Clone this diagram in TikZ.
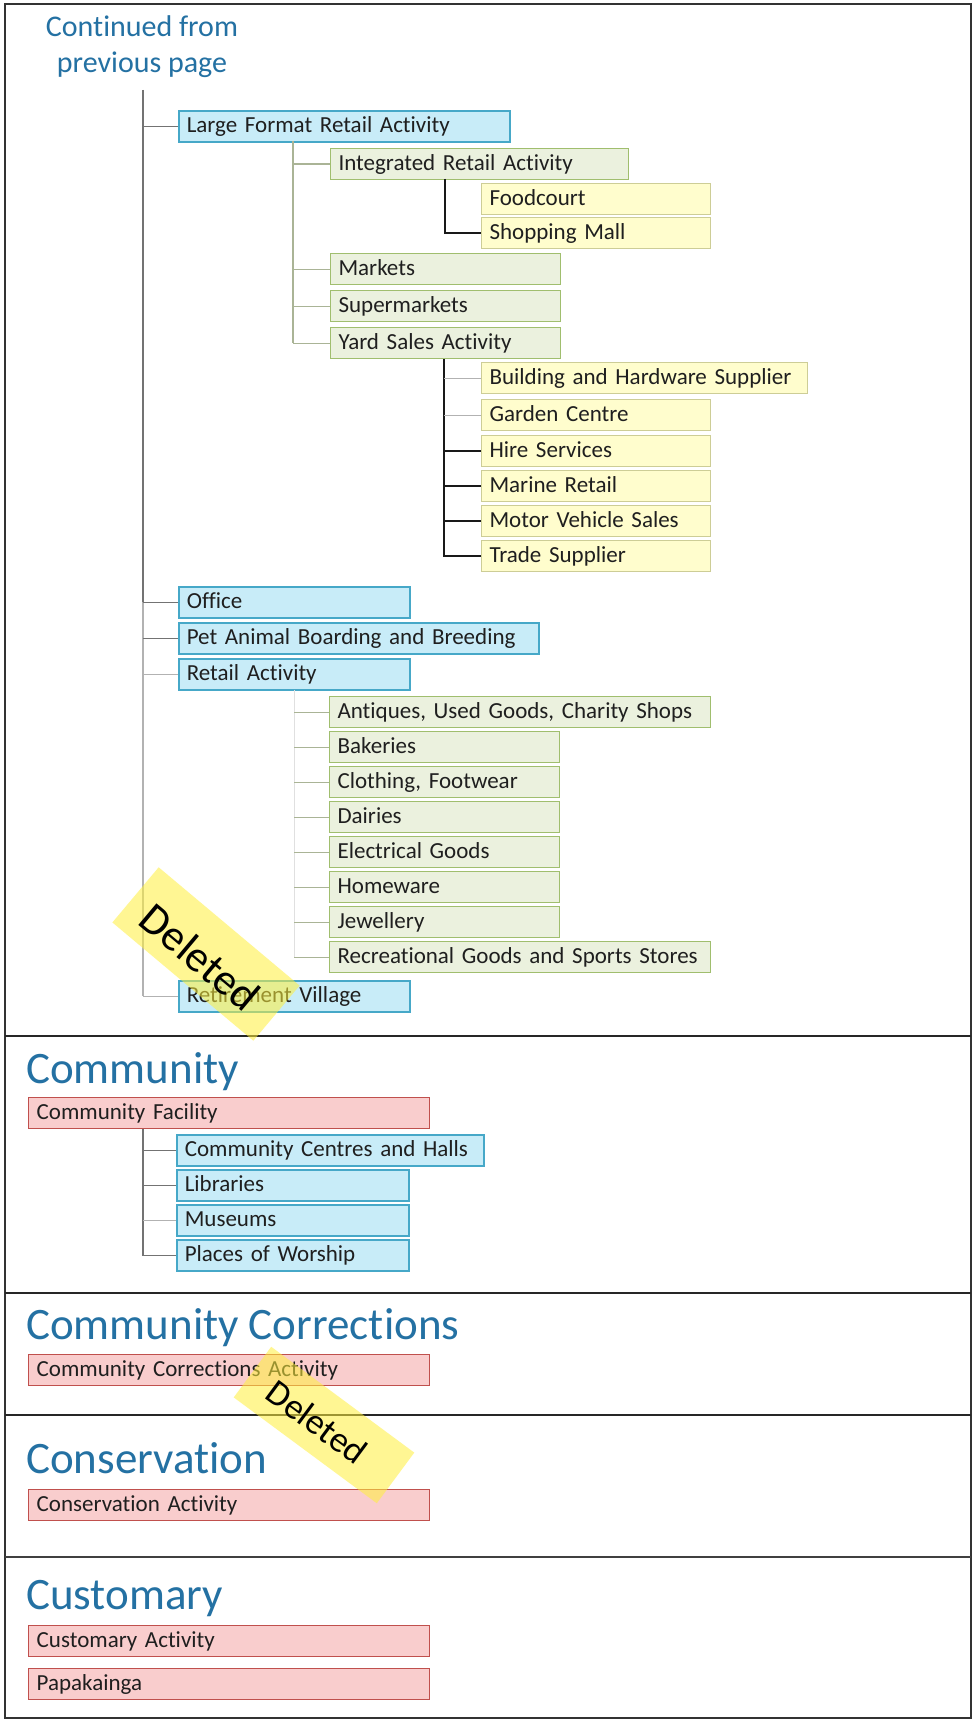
\documentclass[tikz,border=0pt]{standalone}
\usepackage{fontspec}
\setmainfont{Carlito}[Ligatures={NoCommon}]
\usetikzlibrary{calc}
\definecolor{ttl}{RGB}{36,113,163}
\definecolor{bfill}{RGB}{200,236,248}
\definecolor{bdraw}{RGB}{70,168,200}
\definecolor{gfill}{RGB}{235,241,222}
\definecolor{gdraw}{RGB}{160,190,110}
\definecolor{yfill}{RGB}{255,253,205}
\definecolor{ydraw}{RGB}{205,205,150}
\definecolor{rfill}{RGB}{249,205,205}
\definecolor{rdraw}{RGB}{192,80,77}
\definecolor{stk}{RGB}{255,240,60}
\begin{document}
\begin{tikzpicture}[x=1pt,y=-1pt,
  boxbase/.style={rectangle, anchor=north west, inner xsep=8pt, inner ysep=0pt,
    minimum height=31pt, text height=21pt, text depth=9pt, align=left,
    font=\fontsize{23}{26}\selectfont, text={black!88}},
  bx/.style={boxbase, fill=bfill, draw=bdraw, line width=1.6pt},
  gx/.style={boxbase, fill=gfill, draw=gdraw, line width=1.1pt},
  yx/.style={boxbase, fill=yfill, draw=ydraw, line width=1.1pt},
  rx/.style={boxbase, fill=rfill, draw=rdraw, line width=1.4pt},
  title/.style={anchor=base west, inner sep=0pt, text=ttl, font=\fontsize{45}{50}\selectfont},
  trunk/.style={draw=black!55, line width=1.2pt},
  ltrunk/.style={draw=black!30, line width=1.1pt},
  gtrunk/.style={draw={rgb,255:red,170;green,180;blue,150}, line width=1.1pt},
  blk/.style={draw=black!90, line width=1.8pt},
  sep/.style={draw=black!85, line width=2.2pt},
  sticker/.style={fill=stk, fill opacity=0.55, draw=none, inner sep=0pt},
  stktext/.style={inner sep=0pt, text=black}
]
\useasboundingbox (0,0) rectangle (973,1720);
\fill[white] (0,0) rectangle (973,1720);

% frame and separators
\draw[draw=black!80, line width=2pt] (5,4) rectangle (971,1718);
\draw[sep] (5,1036) -- (971,1036);
\draw[sep] (5,1293) -- (971,1293);
\draw[sep] (5,1415) -- (971,1415);
\draw[draw=black!75, line width=1.6pt] (5,1557) -- (971,1557);

% heading
\node[anchor=base, inner sep=0pt, text=ttl, align=center,
  font=\fontsize{30}{36}\selectfont] (cont) at (142,73) {Continued from\\previous page};

% level 1 (blue)
\node[bx, text width=315pt] (lfr) at (178,110) {Large Format Retail Activity};
\node[bx, text width=215pt] (off) at (178,586) {Office};
\node[bx, text width=344pt] (pet) at (178,622) {Pet Animal Boarding and Breeding};
\node[bx, text width=215pt] (ret) at (178,658) {Retail Activity};
\node[bx, text width=215pt] (rv)  at (178,980) {Retirement Village};

% level 2 under Large Format (green)
\node[gx, text width=282pt] (ira)  at (330,148) {Integrated Retail Activity};
\node[gx, text width=214pt] (mkt)  at (330,253) {Markets};
\node[gx, text width=214pt] (sup)  at (330,290) {Supermarkets};
\node[gx, text width=214pt] (yard) at (330,327) {Yard Sales Activity};

% level 3 (yellow)
\node[yx, text width=213pt] (food)  at (481,183) {Foodcourt};
\node[yx, text width=213pt] (mall)  at (481,217) {Shopping Mall};
\node[yx, text width=310pt] (bhs)   at (481,362) {Building and Hardware Supplier};
\node[yx, text width=213pt] (gar)   at (481,399) {Garden Centre};
\node[yx, text width=213pt] (hire)  at (481,435) {Hire Services};
\node[yx, text width=213pt] (mar)   at (481,470) {Marine Retail};
\node[yx, text width=213pt] (mot)   at (481,505) {Motor Vehicle Sales};
\node[yx, text width=213pt] (trade) at (481,540) {Trade Supplier};

% level 2 under Retail Activity (green)
\node[gx, text width=365pt] (ant) at (329,696) {Antiques, Used Goods, Charity Shops};
\node[gx, text width=214pt] (bak) at (329,731) {Bakeries};
\node[gx, text width=214pt] (clo) at (329,766) {Clothing, Footwear};
\node[gx, text width=214pt] (dai) at (329,801) {Dairies};
\node[gx, text width=214pt] (ele) at (329,836) {Electrical Goods};
\node[gx, text width=214pt] (hom) at (329,871) {Homeware};
\node[gx, text width=214pt] (jew) at (329,906) {Jewellery};
\node[gx, text width=365pt] (rec) at (329,941) {Recreational Goods and Sports Stores};

% trunks for the first section
\coordinate (t0) at (143,90);
\draw[trunk] (t0) -- (t0 |- off.west);
\draw[ltrunk] (t0 |- off.west) -- (t0 |- rv.west);
\draw[trunk] (t0 |- lfr.west) -- (lfr.west);
\draw[trunk] (t0 |- off.west) -- (off.west);
\draw[trunk] (t0 |- pet.west) -- (pet.west);
\draw[ltrunk] (t0 |- ret.west) -- (ret.west);
\draw[ltrunk] (t0 |- rv.west) -- (rv.west);

\coordinate (s1) at (293,141);
\draw[gtrunk] (s1) -- (s1 |- yard.west);
\draw[gtrunk] (s1 |- ira.west) -- (ira.west);
\draw[gtrunk] (s1 |- mkt.west) -- (mkt.west);
\draw[gtrunk] (s1 |- sup.west) -- (sup.west);
\draw[gtrunk] (s1 |- yard.west) -- (yard.west);

\coordinate (e1) at (445,179);
\draw[blk] (e1) |- (mall.west);

\coordinate (e2) at (444,359);
\draw[blk] (e2) |- (trade.west);
\draw[ltrunk] (e2 |- bhs.west) -- (bhs.west);
\draw[ltrunk] (e2 |- gar.west) -- (gar.west);
\draw[blk] (e2 |- hire.west) -- (hire.west);
\draw[blk] (e2 |- mar.west) -- (mar.west);
\draw[blk] (e2 |- mot.west) -- (mot.west);

\coordinate (s2) at (294,690);
\draw[draw=black!12, line width=1pt] (s2) -- (s2 |- rec.west);
\foreach \n in {ant,bak,clo,dai,ele,hom,jew,rec}
  \draw[gtrunk] (s2 |- \n.west) -- (\n.west);

% Community section
\node[title] (tcom) at (26,1083) {Community};
\node[rx, text width=385pt] (cf) at (28,1097) {Community Facility};
\node[bx, text width=291pt] (ccc) at (176,1134) {Community Centres and Halls};
\node[bx, text width=216pt] (lib) at (176,1169) {Libraries};
\node[bx, text width=216pt] (mus) at (176,1204) {Museums};
\node[bx, text width=216pt] (pow) at (176,1239) {Places of Worship};
\coordinate (s3) at (143,1129);
\draw[trunk] (s3) |- (pow.west);
\draw[trunk] (s3 |- ccc.west) -- (ccc.west);
\draw[trunk] (s3 |- lib.west) -- (lib.west);
\draw[ltrunk] (s3 |- mus.west) -- (mus.west);

% Community Corrections
\node[title] (tcc) at (26,1339) {Community Corrections};
\node[rx, text width=385pt] (cca) at (28,1354) {Community Corrections Activity};

% Conservation
\node[title] (tcons) at (26,1473) {Conservation};
\node[rx, text width=385pt] (ca) at (28,1489) {Conservation Activity};

% Customary
\node[title] (tcus) at (26,1609) {Customary};
\node[rx, text width=385pt] (cua) at (28,1625) {Customary Activity};
\node[rx, text width=385pt] (pap) at (28,1668) {Papakainga};

% Deleted stickers
\node[sticker, rotate=-40, minimum width=184pt, minimum height=72pt] (st1) at (206,954) {};
\node[stktext, rotate=-40, font=\fontsize{44}{44}\selectfont] (st1t) at (200,957) {Deleted};
\node[sticker, rotate=-36.5, minimum width=178pt, minimum height=63pt] (st2) at (324,1425) {};
\node[stktext, rotate=-36.5, font=\fontsize{36}{36}\selectfont] (st2t) at (317,1422) {Deleted};
\end{tikzpicture}
\end{document}
